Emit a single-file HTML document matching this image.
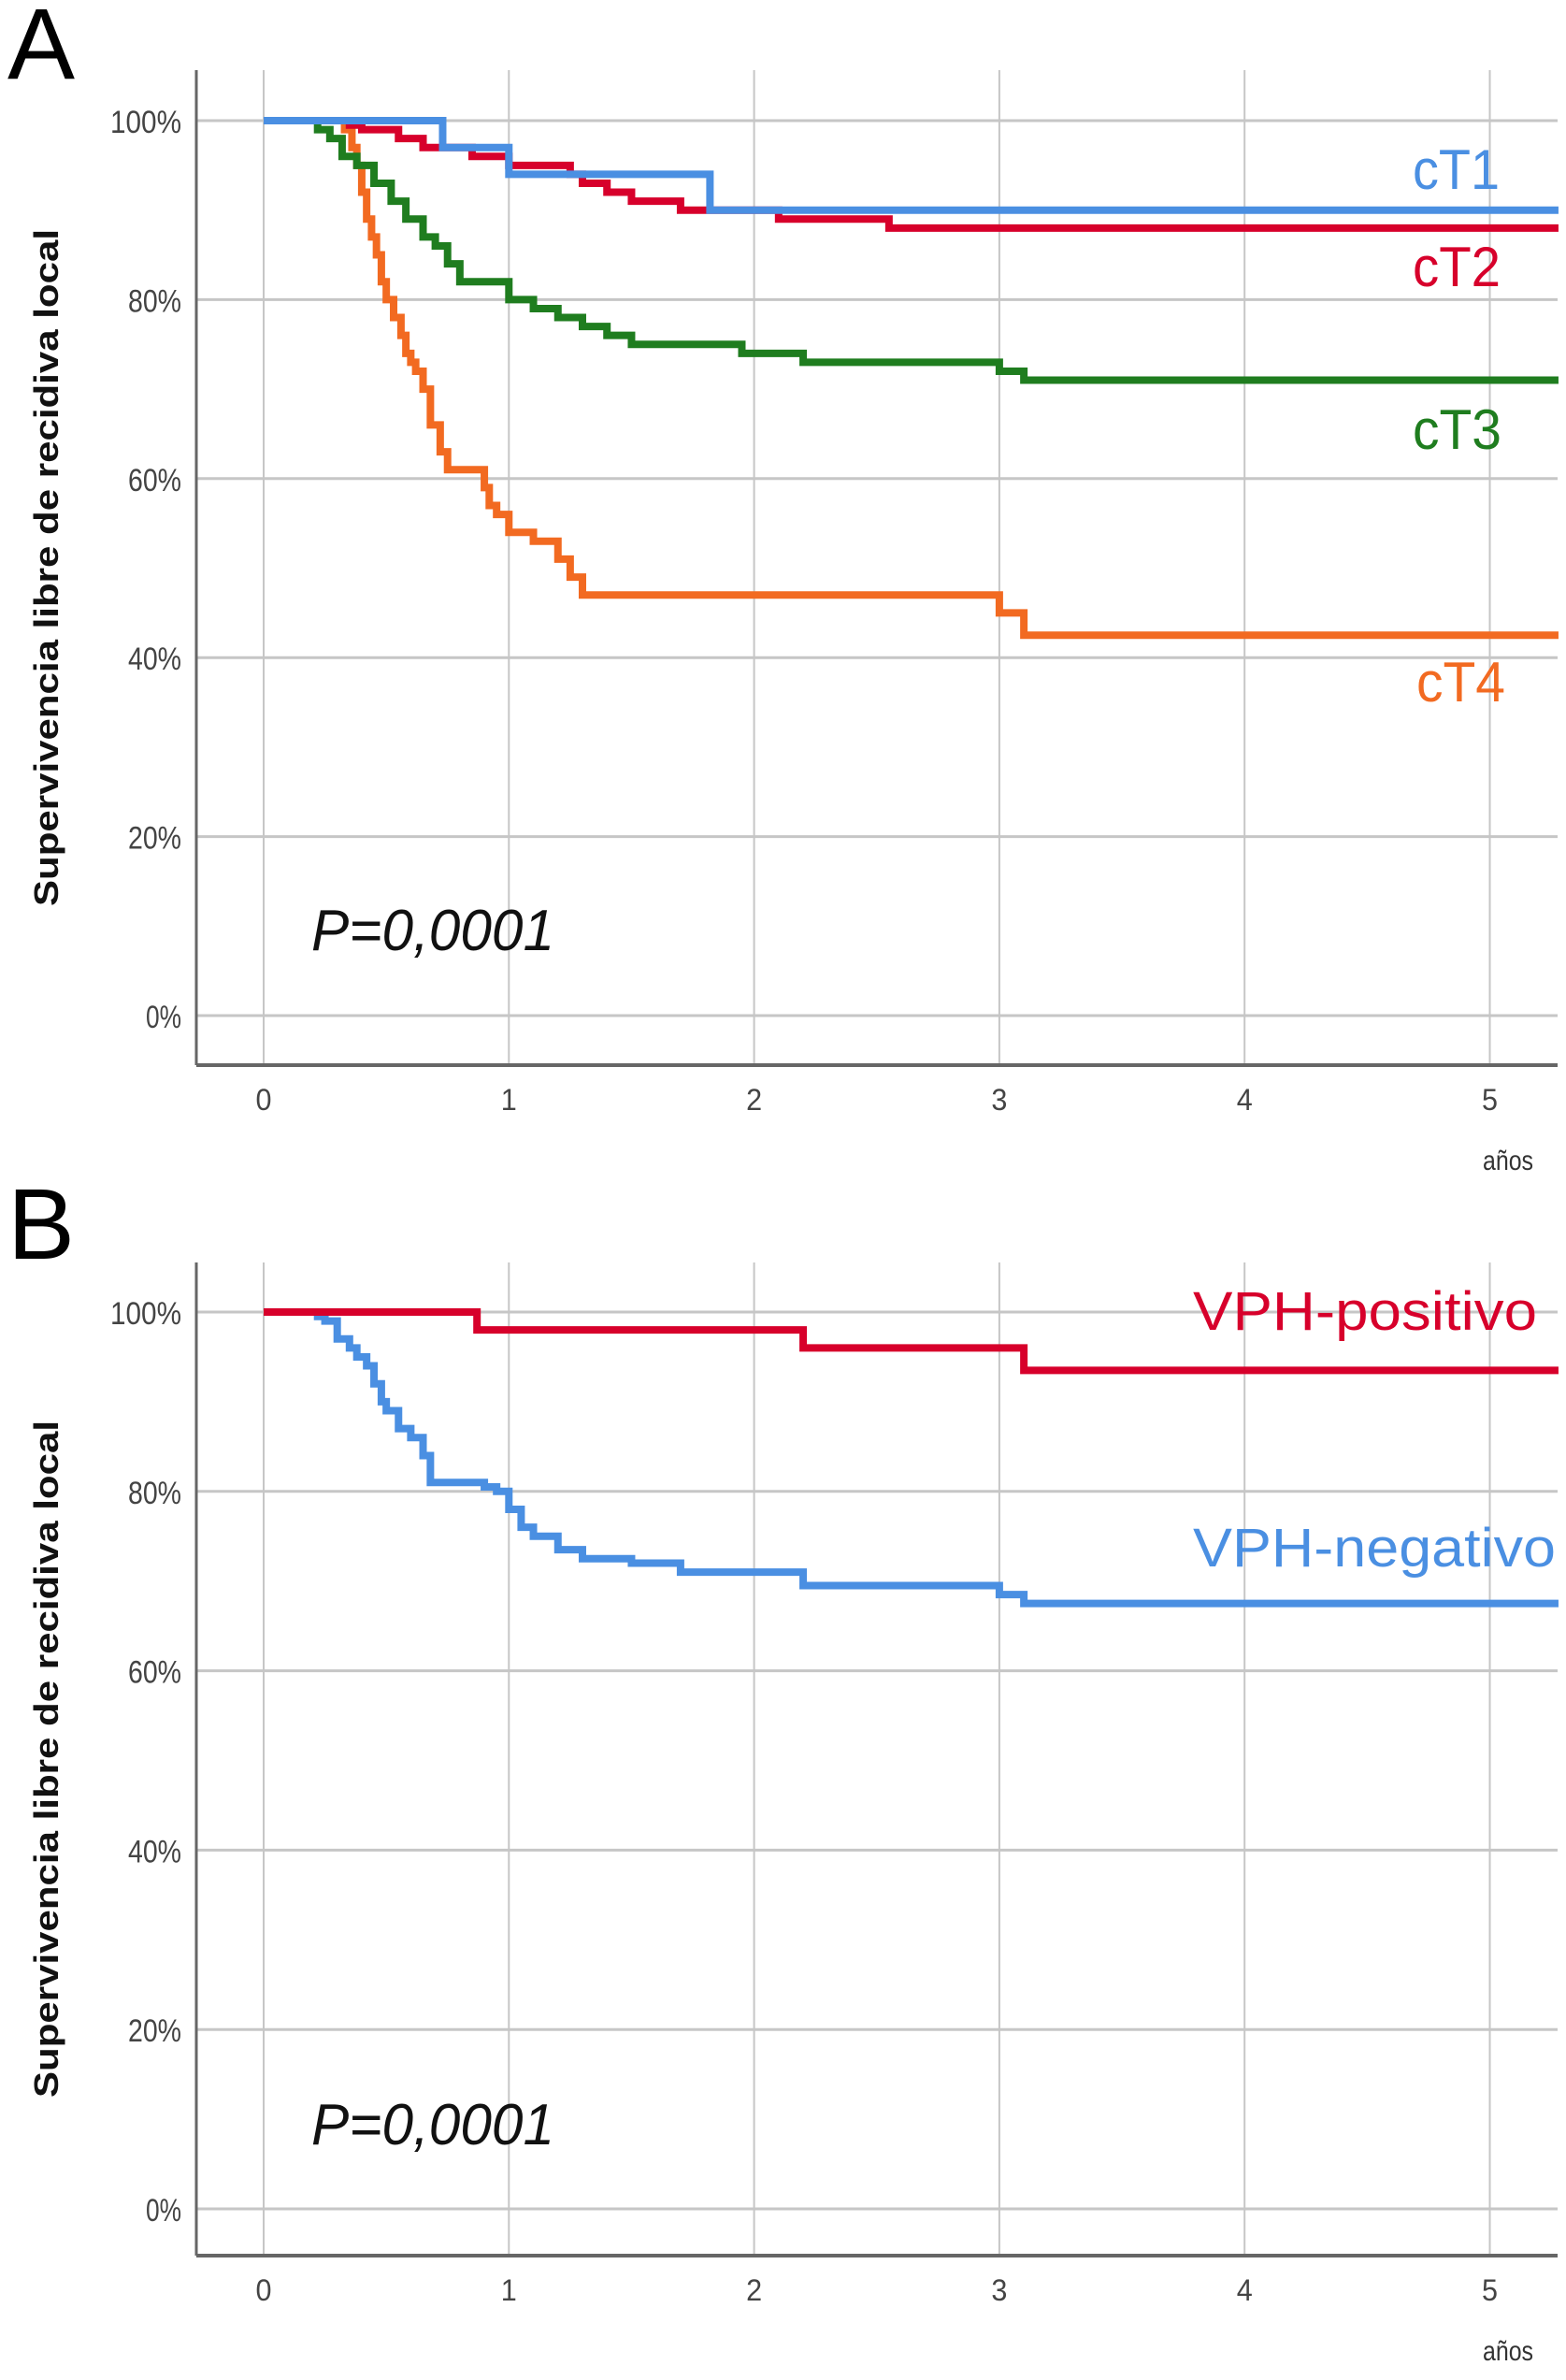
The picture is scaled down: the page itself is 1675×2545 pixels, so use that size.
<!DOCTYPE html>
<html><head><meta charset="utf-8"><style>
body{margin:0;background:#fff}
svg{display:block}
text{font-family:"Liberation Sans",sans-serif}
</style></head><body>
<svg id="fig" width="1675" height="2545" viewBox="0 0 1675 2545" xmlns="http://www.w3.org/2000/svg"></svg>
<script>
// ---- data ----
const xTicks = [0,1,2,3,4,5];
const yTicks = [0,20,40,60,80,100];
const yTickLabels = ["0%","20%","40%","60%","80%","100%"];
const xMax = 5.28;
// Panel A
const cT1_t = [0,0.73,1.0,1.82,5.28];
const cT1_s = [100,97,94,90,90];
const cT2_t = [0,0.35,0.4,0.55,0.65,0.85,1.0,1.25,1.3,1.4,1.5,1.7,2.1,2.55,5.28];
const cT2_s = [100,99.5,99,98,97,96,95,94,93,92,91,90,89,88,88];
const cT3_t = [0,0.22,0.27,0.32,0.38,0.45,0.52,0.58,0.65,0.7,0.75,0.8,1.0,1.1,1.2,1.3,1.4,1.5,1.95,2.2,3.0,3.1,5.28];
const cT3_s = [100,99,98,96,95,93,91,89,87,86,84,82,80,79,78,77,76,75,74,73,72,71,71];
const cT4_t = [0,0.33,0.36,0.38,0.4,0.42,0.44,0.46,0.48,0.5,0.53,0.56,0.58,0.6,0.62,0.65,0.68,0.72,0.75,0.9,0.92,0.95,1.0,1.1,1.2,1.25,1.3,3.0,3.1,5.28];
const cT4_s = [100,99,97,95,92,89,87,85,82,80,78,76,74,73,72,70,66,63,61,59,57,56,54,53,51,49,47,45,42.5,42.5];
// Panel B
const vphPos_t = [0,0.87,2.2,3.1,5.28];
const vphPos_s = [100,98,96,93.5,93.5];
const vphNeg_t = [0,0.22,0.25,0.3,0.35,0.38,0.42,0.45,0.48,0.5,0.55,0.6,0.65,0.68,0.9,0.95,1.0,1.05,1.1,1.2,1.3,1.5,1.7,2.2,3.0,3.1,5.28];
const vphNeg_s = [100,99.5,99,97,96,95,94,92,90,89,87,86,84,81,80.5,80,78,76,75,73.5,72.5,72,71,69.5,68.5,67.5,67.5];

const NS="http://www.w3.org/2000/svg";
const svg=document.getElementById('fig');
function el(tag,attrs,parent){const e=document.createElementNS(NS,tag);for(const k in attrs)e.setAttribute(k,attrs[k]);(parent||svg).appendChild(e);return e;}

function panel(cfg){
  const g=el('g',{});
  
  
  const x0=282, pxPerYear=262.3, left=210, right=1666;
  const X=t=>x0+t*pxPerYear;
  const Y=v=>cfg.y0-(v/100)*(cfg.y0-cfg.y100);
  yTicks.forEach((v,i)=>{
    const l=el('line',{x1:left,x2:right,y1:Y(v),y2:Y(v),stroke:'#c6c6c6','stroke-width':3},g);
    
    
    const t=el('text',{x:194,y:Y(v)+13,'text-anchor':'end','font-size':34,fill:'#444',textLength:yTickLabels[i].length*19,lengthAdjust:'spacingAndGlyphs'},g);
    t.textContent=yTickLabels[i];
    
    
  });
  xTicks.forEach(v=>{
    const l=el('line',{x1:X(v),x2:X(v),y1:cfg.top,y2:cfg.bottom,stroke:'#c6c6c6','stroke-width':2},g);
    
    
    const t=el('text',{x:X(v),y:cfg.bottom+48,'text-anchor':'middle','font-size':32,fill:'#444',textLength:17,lengthAdjust:'spacingAndGlyphs'},g);
    t.textContent=String(v);
    
    
  });
  const ay=el('line',{x1:left,x2:left,y1:cfg.top,y2:cfg.bottom,stroke:'#666','stroke-width':3},g);
  
  
  const ax=el('line',{x1:left,x2:right,y1:cfg.bottom,y2:cfg.bottom,stroke:'#666','stroke-width':4},g);
  
  
  const xt=el('text',{x:1640,y:cfg.bottom+112,'text-anchor':'end','font-size':30,fill:'#333',textLength:54,lengthAdjust:'spacingAndGlyphs'},g);
  xt.textContent='años';
  
  
  const yc=(cfg.top+cfg.bottom)/2;
  const yt=el('text',{x:0,y:0,'text-anchor':'middle','font-size':36,'font-weight':'bold',fill:'#111',transform:`translate(62,${yc}) rotate(-90)`,textLength:724,lengthAdjust:'spacingAndGlyphs'},g);
  yt.textContent='Supervivencia libre de recidiva local';
  
  
  const pl=el('text',{x:333,y:cfg.pY,'font-size':62,'font-style':'italic',fill:'#111',textLength:260,lengthAdjust:'spacingAndGlyphs'},g);
  pl.textContent='P=0,0001';
  
  
  const pn=el('text',{x:8,y:cfg.letterY,'font-size':108,fill:'#000'},g);
  pn.textContent=cfg.letter;
  
  
  cfg.series.forEach(s=>{
    let d=`M${X(s.t[0])},${Y(s.s[0])}`;
    for(let i=1;i<s.t.length;i++){d+=`H${X(s.t[i])}V${Y(s.s[i])}`;}
    const p=el('path',{d,fill:'none',stroke:s.color,'stroke-width':8},g);
    
    
    const lb=el('text',{x:s.lx,y:s.ly,'text-anchor':'end','font-size':s.fs,fill:s.color,textLength:s.lw,lengthAdjust:'spacingAndGlyphs'},g);
    lb.textContent=s.label;
    
    
  });
}
panel({name:'panel-a',letter:'A',letterY:84,top:75,bottom:1139,y100:129,y0:1086,pY:1016,series:[
  {name:'ct4',t:cT4_t,s:cT4_s,color:'#f26a21',label:'cT4',lx:1610,ly:750,fs:60,lw:95},
  {name:'ct3',t:cT3_t,s:cT3_s,color:'#1f7d1f',label:'cT3',lx:1606,ly:480,fs:60,lw:95},
  {name:'ct2',t:cT2_t,s:cT2_s,color:'#d7002b',label:'cT2',lx:1605,ly:306,fs:60,lw:94},
  {name:'ct1',t:cT1_t,s:cT1_s,color:'#4a8fe2',label:'cT1',lx:1604,ly:202,fs:60,lw:93}
]});
panel({name:'panel-b',letter:'B',letterY:1346,top:1350,bottom:2412,y100:1403,y0:2362,pY:2293,series:[
  {name:'vph-negativo',t:vphNeg_t,s:vphNeg_s,color:'#4a8fe2',label:'VPH-negativo',lx:1664,ly:1675,fs:58,lw:388},
  {name:'vph-positivo',t:vphPos_t,s:vphPos_s,color:'#d7002b',label:'VPH-positivo',lx:1644,ly:1422,fs:58,lw:368}
]});
</script>
</body></html>
